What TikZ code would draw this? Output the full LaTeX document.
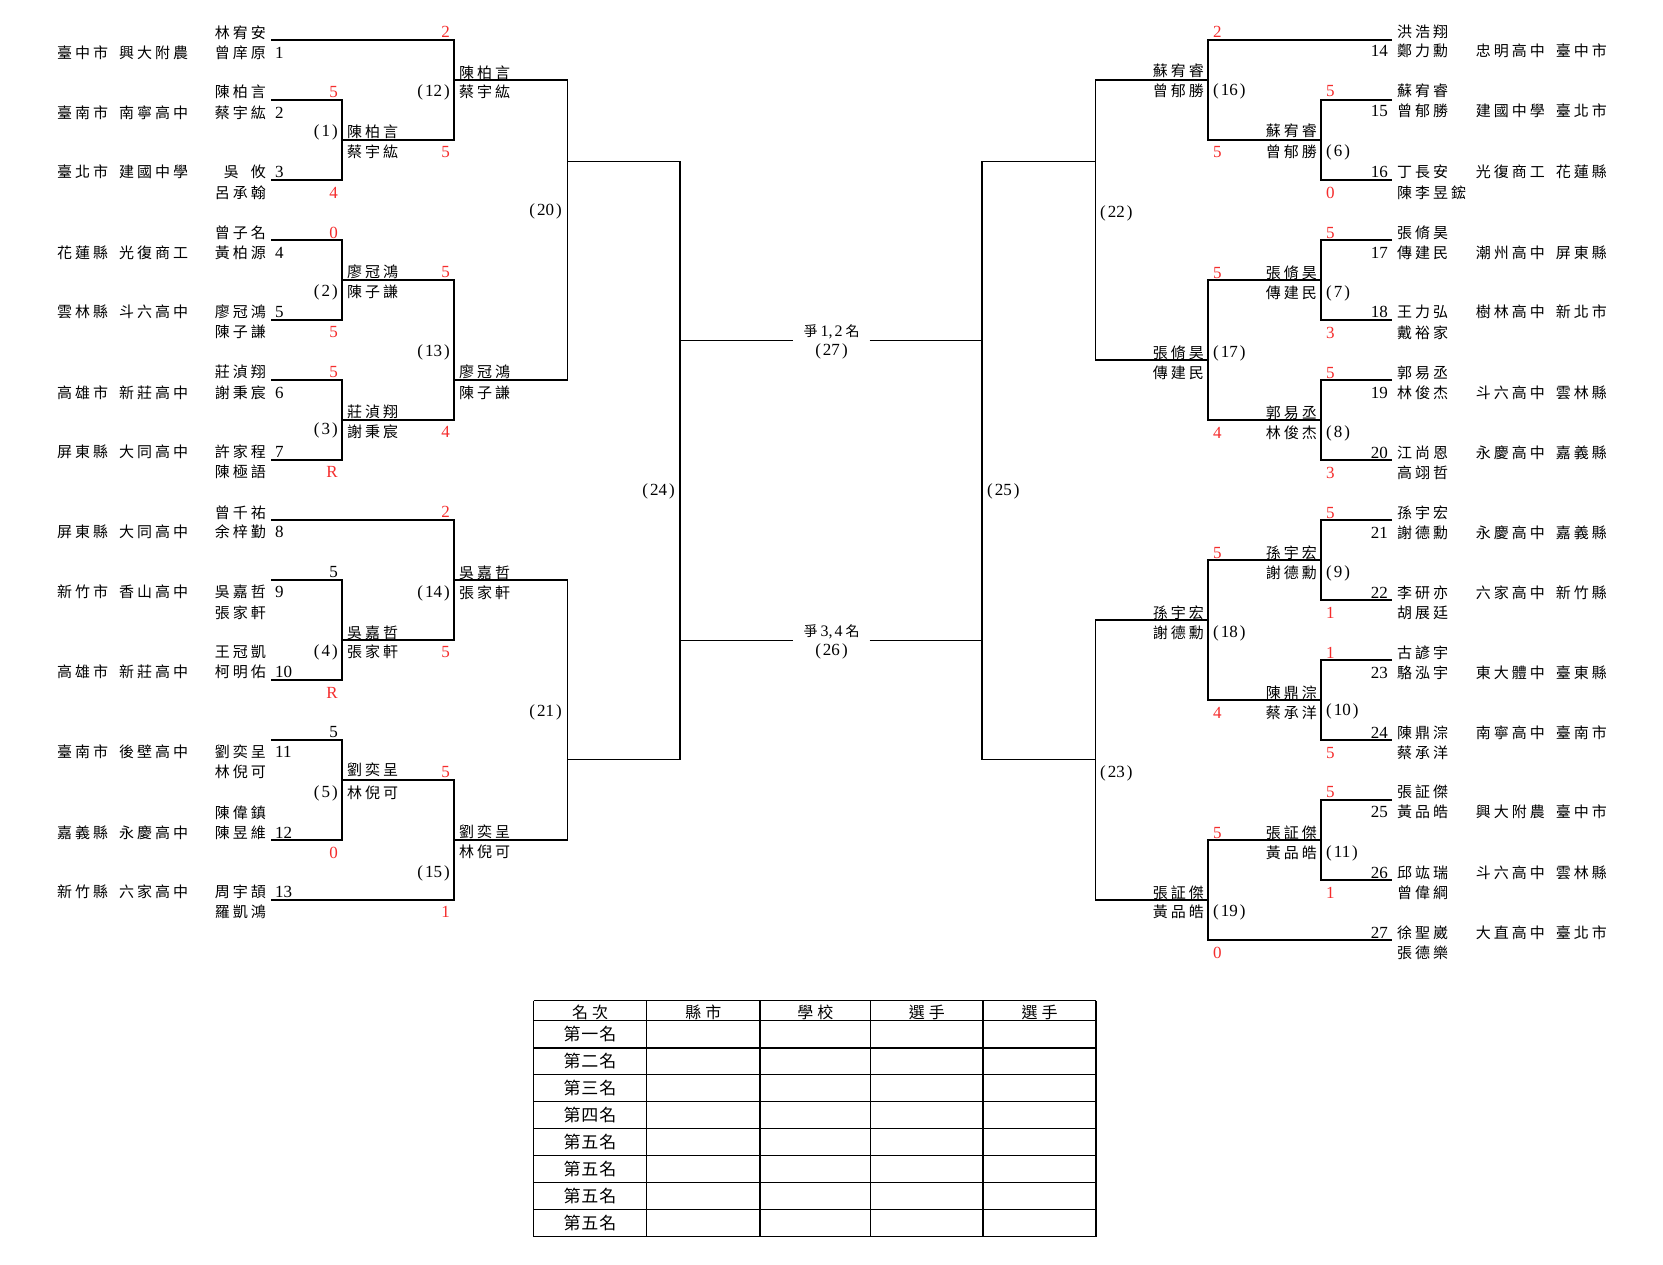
\documentclass[tikz,border=0pt]{standalone}
\usepackage{fontspec}
\setmainfont{Liberation Serif}
\newfontfamily\cjk{Noto Sans CJK TC}
\definecolor{scred}{RGB}{245,45,45}
\newdimen\lsk \lsk=3pt
\def\ls#1{\lsA#1\relax}
\def\lsA#1{#1\lsB}
\def\lsB#1{\ifx\relax#1\else\kern\lsk #1\expandafter\lsB\fi}
\newcounter{scn}
\tikzset{
  nm/.style={inner sep=0pt, font=\cjk\fontsize{15}{15}\selectfont},
  num/.style={inner sep=0pt, font=\fontsize{17}{17}\selectfont},
  sc/.style={num, text=scred},
  scb/.style={num, text=black},
  br/.style={line width=1.3pt, line join=miter},
  tb/.style={line width=1.3pt},
}
% left team: id, ytop, top name, ybot, bottom name, seed row (0 top / 1 bottom), seed, county, school
\newcommand\LT[9]{%
  \node[nm,anchor=east] (L#1a) at (266,#2) {\ls{#3}};
  \node[nm,anchor=east] (L#1b) at (266,#4) {\ls{#5}};
  \ifnum#6=0 \def\sy{#2}\else\def\sy{#4}\fi
  \node[num,anchor=west] (L#1s) at (275,\sy) {#7};
  \node[nm,anchor=west] (L#1c) at (57,\sy) {\ls{#8}};
  \node[nm,anchor=west] (L#1d) at (119,\sy) {\ls{#9}};}
% right team: id, ytop, top name, ybot, bottom name, seed row, seed, school, county
\newcommand\RT[9]{%
  \node[nm,anchor=west] (R#1a) at (1397,#2) {\ls{#3}};
  \node[nm,anchor=west] (R#1b) at (1397,#4) {\ls{#5}};
  \ifnum#6=0 \def\sy{#2}\else\def\sy{#4}\fi
  \node[num,anchor=east] (R#1s) at (1388,\sy) {#7};
  \node[nm,anchor=east] (R#1d) at (1545,\sy) {\ls{#8}};
  \node[nm,anchor=east] (R#1c) at (1607,\sy) {\ls{#9}};}
\newcommand\LW[6]{%
  \node[nm,anchor=west] (W#1a) at (#2,#3) {\ls{#4}};
  \node[nm,anchor=west] (W#1b) at (#2,#5) {\ls{#6}};}
\newcommand\RW[6]{%
  \node[nm,anchor=east] (W#1a) at (#2,#3) {\ls{#4}};
  \node[nm,anchor=east] (W#1b) at (#2,#5) {\ls{#6}};}
\newcommand\ML[4]{\node[num,anchor=#2] (M#1) at (#3,#4) {(\kern2pt#1\kern2pt)};}
\newcommand\SC[4]{\stepcounter{scn}\node[#1] (S\arabic{scn}) at (#2,#3) {#4};}
\begin{document}
\begin{tikzpicture}[x=1pt,y=-1pt]
\useasboundingbox (0,0) rectangle (1663,1264);
\fill[white] (0,0) rectangle (1663,1264);

% ---------- left teams ----------
\LT{1}{33}{林宥安}{53}{曾庠原}{1}{1}{臺中市}{興大附農}
\LT{2}{92}{陳柏言}{113}{蔡宇紘}{1}{2}{臺南市}{南寧高中}
\LT{3}{172}{{吳\kern9pt}攸}{193}{呂承翰}{0}{3}{臺北市}{建國中學}
\LT{4}{233}{曾子名}{253}{黃柏源}{1}{4}{花蓮縣}{光復商工}
\LT{5}{312}{廖冠鴻}{332}{陳子謙}{0}{5}{雲林縣}{斗六高中}
\LT{6}{372}{莊湞翔}{393}{謝秉宸}{1}{6}{高雄市}{新莊高中}
\LT{7}{452}{許家程}{472}{陳極語}{0}{7}{屏東縣}{大同高中}
\LT{8}{513}{曾千祐}{532}{余梓勤}{1}{8}{屏東縣}{大同高中}
\LT{9}{592}{吳嘉哲}{613}{張家軒}{0}{9}{新竹市}{香山高中}
\LT{10}{652}{王冠凱}{672}{柯明佑}{1}{10}{高雄市}{新莊高中}
\LT{11}{752}{劉奕呈}{772}{林倪可}{0}{11}{臺南市}{後壁高中}
\LT{12}{813}{陳偉鎮}{833}{陳昱維}{1}{12}{嘉義縣}{永慶高中}
\LT{13}{892}{周宇頡}{912}{羅凱鴻}{0}{13}{新竹縣}{六家高中}

% ---------- right teams ----------
\RT{14}{32}{洪浩翔}{51}{鄭力勳}{1}{14}{忠明高中}{臺中市}
\RT{15}{91}{蘇宥睿}{111}{曾郁勝}{1}{15}{建國中學}{臺北市}
\RT{16}{172}{丁長安}{193}{陳李昱鋐}{0}{16}{光復商工}{花蓮縣}
\RT{17}{233}{張脩昊}{253}{傳建民}{1}{17}{潮州高中}{屏東縣}
\RT{18}{312}{王力弘}{333}{戴裕家}{0}{18}{樹林高中}{新北市}
\RT{19}{373}{郭易丞}{393}{林俊杰}{1}{19}{斗六高中}{雲林縣}
\RT{20}{453}{江尚恩}{473}{高翊哲}{0}{20}{永慶高中}{嘉義縣}
\RT{21}{513}{孫宇宏}{533}{謝德勳}{1}{21}{永慶高中}{嘉義縣}
\RT{22}{593}{李研亦}{613}{胡展廷}{0}{22}{六家高中}{新竹縣}
\RT{23}{653}{古諺宇}{673}{駱泓宇}{1}{23}{東大體中}{臺東縣}
\RT{24}{733}{陳鼎淙}{753}{蔡承洋}{0}{24}{南寧高中}{臺南市}
\RT{25}{792}{張証傑}{812}{黃品皓}{1}{25}{興大附農}{臺中市}
\RT{26}{873}{邱竑瑞}{893}{曾偉綱}{0}{26}{斗六高中}{雲林縣}
\RT{27}{933}{徐聖崴}{953}{張德樂}{0}{27}{大直高中}{臺北市}

% ---------- winners ----------
\LW{1}{347}{132}{陳柏言}{152}{蔡宇紘}
\LW{2}{347}{272}{廖冠鴻}{292}{陳子謙}
\LW{3}{347}{412}{莊湞翔}{432}{謝秉宸}
\LW{4}{347}{633}{吳嘉哲}{652}{張家軒}
\LW{5}{347}{770}{劉奕呈}{793}{林倪可}
\LW{12}{459}{73}{陳柏言}{92}{蔡宇紘}
\LW{13}{459}{372}{廖冠鴻}{393}{陳子謙}
\LW{14}{459}{573}{吳嘉哲}{593}{張家軒}
\LW{15}{459}{832}{劉奕呈}{852}{林倪可}
\RW{6}{1317}{131}{蘇宥睿}{152}{曾郁勝}
\RW{7}{1317}{273}{張脩昊}{293}{傳建民}
\RW{8}{1317}{413}{郭易丞}{433}{林俊杰}
\RW{9}{1317}{553}{孫宇宏}{573}{謝德勳}
\RW{10}{1317}{693}{陳鼎淙}{713}{蔡承洋}
\RW{11}{1317}{833}{張証傑}{853}{黃品皓}
\RW{16}{1204}{71}{蘇宥睿}{91}{曾郁勝}
\RW{17}{1204}{353}{張脩昊}{373}{傳建民}
\RW{18}{1204}{613}{孫宇宏}{633}{謝德勳}
\RW{19}{1204}{893}{張証傑}{912}{黃品皓}

% ---------- match labels ----------
\ML{1}{east}{338}{132}
\ML{2}{east}{338}{292}
\ML{3}{east}{338}{430}
\ML{4}{east}{338}{652}
\ML{5}{east}{338}{793}
\ML{12}{east}{450}{92}
\ML{13}{east}{450}{352}
\ML{14}{east}{450}{593}
\ML{15}{east}{450}{873}
\ML{20}{east}{562}{211}
\ML{21}{east}{562}{712}
\ML{24}{east}{675}{491}
\ML{6}{west}{1326}{152}
\ML{7}{west}{1326}{293}
\ML{8}{west}{1326}{433}
\ML{9}{west}{1326}{573}
\ML{10}{west}{1326}{711}
\ML{11}{west}{1326}{853}
\ML{16}{west}{1213}{91}
\ML{17}{west}{1213}{353}
\ML{18}{west}{1213}{633}
\ML{19}{west}{1213}{912}
\ML{22}{west}{1100}{213}
\ML{23}{west}{1100}{773}
\ML{25}{west}{987}{491}

% ---------- scores ----------
\SC{sc,anchor=east}{338}{92}{5}
\SC{sc,anchor=east}{338}{193}{4}
\SC{sc,anchor=east}{338}{233}{0}
\SC{sc,anchor=east}{338}{332}{5}
\SC{sc,anchor=east}{338}{372}{5}
\SC{sc,anchor=east}{338}{472}{R}
\SC{scb,anchor=east}{338}{572}{5}
\SC{sc,anchor=east}{338}{693}{R}
\SC{scb,anchor=east}{338}{732}{5}
\SC{sc,anchor=east}{338}{853}{0}
\SC{sc,anchor=east}{450}{32}{2}
\SC{sc,anchor=east}{450}{152}{5}
\SC{sc,anchor=east}{450}{272}{5}
\SC{sc,anchor=east}{450}{432}{4}
\SC{sc,anchor=east}{450}{512}{2}
\SC{sc,anchor=east}{450}{652}{5}
\SC{sc,anchor=east}{450}{772}{5}
\SC{sc,anchor=east}{450}{912}{1}
\SC{sc,anchor=west}{1326}{91}{5}
\SC{sc,anchor=west}{1326}{193}{0}
\SC{sc,anchor=west}{1326}{233}{5}
\SC{sc,anchor=west}{1326}{333}{3}
\SC{sc,anchor=west}{1326}{373}{5}
\SC{sc,anchor=west}{1326}{473}{3}
\SC{sc,anchor=west}{1326}{513}{5}
\SC{sc,anchor=west}{1326}{613}{1}
\SC{sc,anchor=west}{1326}{653}{1}
\SC{sc,anchor=west}{1326}{753}{5}
\SC{sc,anchor=west}{1326}{792}{5}
\SC{sc,anchor=west}{1326}{893}{1}
\SC{sc,anchor=west}{1213}{32}{2}
\SC{sc,anchor=west}{1213}{152}{5}
\SC{sc,anchor=west}{1213}{273}{5}
\SC{sc,anchor=west}{1213}{433}{4}
\SC{sc,anchor=west}{1213}{553}{5}
\SC{sc,anchor=west}{1213}{713}{4}
\SC{sc,anchor=west}{1213}{833}{5}
\SC{sc,anchor=west}{1213}{953}{0}

% ---------- bracket lines, left ----------
\draw[br] (271,40) -- (454,40) -- (454,140) -- (342,140);
\draw[br] (271,100) -- (342,100) -- (342,180) -- (271,180);
\draw[br] (271,240) -- (342,240) -- (342,320) -- (271,320);
\draw[br] (271,380) -- (342,380) -- (342,460) -- (271,460);
\draw[br] (342,280) -- (454,280) -- (454,420) -- (342,420);
\draw[br] (454,80) -- (567.4,80) -- (567.4,380) -- (454,380);
\draw[br] (271,520) -- (454,520) -- (454,640) -- (342,640);
\draw[br] (271,580) -- (342,580) -- (342,680) -- (271,680);
\draw[br] (271,740) -- (342,740) -- (342,840) -- (271,840);
\draw[br] (342,780) -- (454,780) -- (454,900) -- (271,900);
\draw[br] (454,580) -- (567.4,580) -- (567.4,840) -- (454,840);
\draw[br] (567.4,161.2) -- (680,161.2) -- (680,759.4) -- (567.4,759.4);

% ---------- bracket lines, right ----------
\draw[br] (1392,40) -- (1208,40) -- (1208,140) -- (1321,140);
\draw[br] (1392,100) -- (1321,100) -- (1321,180) -- (1392,180);
\draw[br] (1392,240) -- (1321,240) -- (1321,320) -- (1392,320);
\draw[br] (1392,380) -- (1321,380) -- (1321,460) -- (1392,460);
\draw[br] (1321,280) -- (1208,280) -- (1208,420) -- (1321,420);
\draw[br] (1208,80) -- (1095.6,80) -- (1095.6,360) -- (1208,360);
\draw[br] (1392,520) -- (1321,520) -- (1321,600) -- (1392,600);
\draw[br] (1392,660) -- (1321,660) -- (1321,740) -- (1392,740);
\draw[br] (1321,560) -- (1208,560) -- (1208,700) -- (1321,700);
\draw[br] (1392,800) -- (1321,800) -- (1321,880) -- (1392,880);
\draw[br] (1321,840) -- (1208,840) -- (1208,940) -- (1392,940);
\draw[br] (1208,620) -- (1095.6,620) -- (1095.6,900) -- (1208,900);
\draw[br] (1095.6,161.2) -- (982.1,161.2) -- (982.1,759.4) -- (1095.6,759.4);

% ---------- centre ----------
\node[inner sep=0pt, font=\fontsize{16}{16}\selectfont] (c12) at (831.5,332)
  {{\cjk\fontsize{14}{14}\selectfont 爭}\kern3pt 1,\kern2pt 2\kern3pt{\cjk\fontsize{14}{14}\selectfont 名}};
\node[num] (c27) at (831.5,351) {(\kern2pt 27\kern2pt)};
\node[inner sep=0pt, font=\fontsize{16}{16}\selectfont] (c34) at (831.5,632)
  {{\cjk\fontsize{14}{14}\selectfont 爭}\kern3pt 3,\kern2pt 4\kern3pt{\cjk\fontsize{14}{14}\selectfont 名}};
\node[num] (c26) at (831.5,651) {(\kern2pt 26\kern2pt)};
\coordinate (a1) at (680,340.5);
\coordinate (a2) at (793.3,340.5);
\coordinate (a3) at (869.7,340.5);
\coordinate (a4) at (982.1,340.5);
\coordinate (b1) at (680,640.5);
\coordinate (b2) at (793.3,640.5);
\coordinate (b3) at (869.7,640.5);
\coordinate (b4) at (982.1,640.5);
\draw[br] (a1) -- (a2);
\draw[br] (a3) -- (a4);
\draw[br] (b1) -- (b2);
\draw[br] (b3) -- (b4);

% ---------- table ----------
\def\colx{533.5,646.5,760,870.5,983,1096}
\foreach \x in \colx {\draw[tb] (\x,1000.5) -- (\x,1236.5);}
\foreach \y in {1000.5,1020.5,1048,1074.5,1101.5,1128.5,1155.5,1182.5,1209.5,1236.5}
  {\draw[tb] (533.5,\y) -- (1096,\y);}
\begingroup\lsk=4pt
\node[inner sep=0pt, font=\cjk\fontsize{16}{16}\selectfont] (h1) at (590,1012) {\ls{名次}};
\node[inner sep=0pt, font=\cjk\fontsize{16}{16}\selectfont] (h2) at (703.25,1012) {\ls{縣市}};
\node[inner sep=0pt, font=\cjk\fontsize{16}{16}\selectfont] (h3) at (815.25,1012) {\ls{學校}};
\node[inner sep=0pt, font=\cjk\fontsize{16}{16}\selectfont] (h4) at (926.75,1012) {\ls{選手}};
\node[inner sep=0pt, font=\cjk\fontsize{16}{16}\selectfont] (h5) at (1039.5,1012) {\ls{選手}};
\endgroup
\begingroup\lsk=1pt
\node[inner sep=0pt, font=\cjk\fontsize{17}{17}\selectfont] (r1) at (590,1034.25) {\ls{第一名}};
\node[inner sep=0pt, font=\cjk\fontsize{17}{17}\selectfont] (r2) at (590,1061.25) {\ls{第二名}};
\node[inner sep=0pt, font=\cjk\fontsize{17}{17}\selectfont] (r3) at (590,1088) {\ls{第三名}};
\node[inner sep=0pt, font=\cjk\fontsize{17}{17}\selectfont] (r4) at (590,1115) {\ls{第四名}};
\node[inner sep=0pt, font=\cjk\fontsize{17}{17}\selectfont] (r5) at (590,1142) {\ls{第五名}};
\node[inner sep=0pt, font=\cjk\fontsize{17}{17}\selectfont] (r6) at (590,1169) {\ls{第五名}};
\node[inner sep=0pt, font=\cjk\fontsize{17}{17}\selectfont] (r7) at (590,1196) {\ls{第五名}};
\node[inner sep=0pt, font=\cjk\fontsize{17}{17}\selectfont] (r8) at (590,1223) {\ls{第五名}};
\endgroup
\end{tikzpicture}
\end{document}
